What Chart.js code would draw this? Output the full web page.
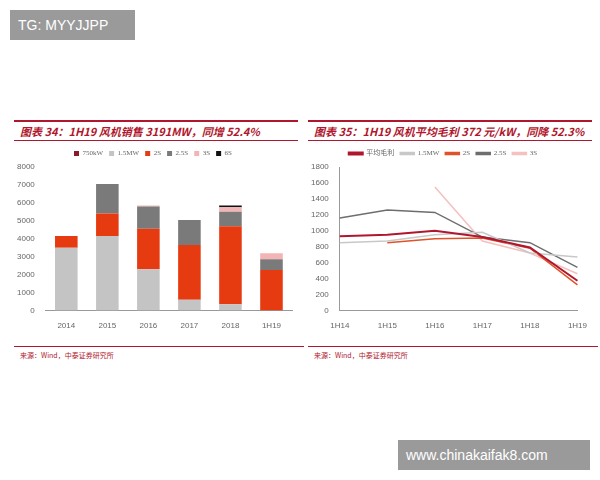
<!DOCTYPE html>
<html lang="zh">
<head>
<meta charset="UTF-8">
<script src="https://cdn.jsdelivr.net/npm/chart.js"></script>
<style>
  body { margin: 0; width: 600px; height: 480px; background: #fff; position: relative; font-family: "Noto Sans CJK SC", "Liberation Sans", sans-serif; overflow: hidden; }
  .box { position: absolute; background: #9a9a9a; color: #fff; font-family: "Liberation Sans", sans-serif; font-size: 14px; padding: 0 8px; line-height: 30px; }
  .title { position: absolute; color: #b0172e; font-style: italic; font-weight: bold; font-size: 11px; border-top: 2px solid #b0172e; border-bottom: 1px solid #b0172e; line-height: 18px; padding-left: 6px; }
  .src { position: absolute; top: 346px; border-top: 1px solid #b0172e; font-size: 7px; color: #b0172e; padding: 3px 6px; }
  canvas { position: absolute; }
</style>
</head>
<body>
<div class="box" style="left:10px;top:10px;width:109px;">TG: MYYJJPP</div>
<div class="box" style="left:398px;top:440px;width:176px;">www.chinakaifak8.com</div>

<div class="title" style="left:14px;top:120px;width:278px;">图表 34：1H19 风机销售 3191MW，同增 52.4%</div>
<div class="title" style="left:308px;top:120px;width:278px;">图表 35：1H19 风机平均毛利 372 元/kW，同降 52.3%</div>
<div class="src" style="left:14px;width:278px;">来源：Wind，中泰证券研究所</div>
<div class="src" style="left:308px;width:278px;">来源：Wind，中泰证券研究所</div>

<div style="position:absolute;left:14px;top:144px;width:286px;height:190px;"><canvas id="left"></canvas></div>
<div style="position:absolute;left:308px;top:144px;width:282px;height:190px;"><canvas id="right"></canvas></div>

<script>
// left chart: sales by model (MW)
const years = ['2014', '2015', '2016', '2017', '2018', '1H19'];
const s750kW = [0, 0, 0, 0, 0, 0];
const s15MW = [3500, 4150, 2300, 600, 350, 0];
const s2S = [650, 1250, 2250, 3050, 4350, 2250];
const s25S = [0, 1650, 1250, 1400, 800, 600];
const s3S = [0, 0, 50, 0, 250, 340];
const s6S = [0, 0, 0, 0, 100, 0];

// right chart: gross margin (yuan/kW)
const halves = ['1H14', '1H15', '1H16', '1H17', '1H18', '1H19'];
const avgMargin = [930, 950, 1000, 920, 790, 372];
const m15MW = [850, 870, 950, 980, 720, 670];
const m2S = [null, 850, 900, 910, 780, 320];
const m25S = [1160, 1260, 1230, 920, 850, 540];
const m3S = [null, null, 1550, 870, 720, 460];

Chart.defaults.font.family = '"Liberation Sans", sans-serif';
Chart.defaults.font.size = 8;
Chart.defaults.color = '#666';
Chart.defaults.animation = false;

const plain = { format: { useGrouping: false } };
const bar = (label, data, color) => ({ label, data, backgroundColor: color, barPercentage: 0.55, categoryPercentage: 1 });

new Chart(document.getElementById('left'), {
  type: 'bar',
  data: {
    labels: years,
    datasets: [
      bar('750kW', s750kW, '#8b1a2b'),
      bar('1.5MW', s15MW, '#c4c4c4'),
      bar('2S', s2S, '#e63a10'),
      bar('2.5S', s25S, '#7a7a7a'),
      bar('3S', s3S, '#f2b4b4'),
      bar('6S', s6S, '#111')
    ]
  },
  options: {
    responsive: true,
    maintainAspectRatio: false,
    layout: { padding: { right: 8 } },
    plugins: {
      legend: { labels: { boxWidth: 5, boxHeight: 5, font: { family: '"Liberation Serif", serif', size: 7 }, padding: 6 } },
      tooltip: { enabled: false }
    },
    scales: {
      x: { stacked: true, grid: { display: false }, border: { color: '#999' } },
      y: { stacked: true, min: 0, max: 8000, ticks: { stepSize: 1000, ...plain }, grid: { display: false }, border: { display: false } }
    }
  }
});

const line = (label, data, color, w) => ({ label, data, borderColor: color, backgroundColor: color, borderWidth: w, pointRadius: 0, tension: 0 });

new Chart(document.getElementById('right'), {
  type: 'line',
  data: {
    labels: halves,
    datasets: [
      line('平均毛利', avgMargin, '#b0172e', 2),
      line('1.5MW', m15MW, '#c8c8c8', 1.5),
      line('2S', m2S, '#e0522a', 1.5),
      line('2.5S', m25S, '#6e6e6e', 1.5),
      line('3S', m3S, '#f4c0c0', 1.5)
    ]
  },
  options: {
    responsive: true,
    maintainAspectRatio: false,
    layout: { padding: { right: 12 } },
    plugins: {
      legend: { labels: { boxWidth: 14, boxHeight: 2, font: { family: '"Liberation Serif", "Noto Sans CJK SC", serif', size: 7 }, padding: 6 } },
      tooltip: { enabled: false }
    },
    scales: {
      x: { grid: { display: false }, border: { color: '#999' } },
      y: { min: 0, max: 1800, ticks: { stepSize: 200, ...plain }, grid: { display: false }, border: { color: '#999' } }
    }
  }
});
</script>
</body>
</html>
